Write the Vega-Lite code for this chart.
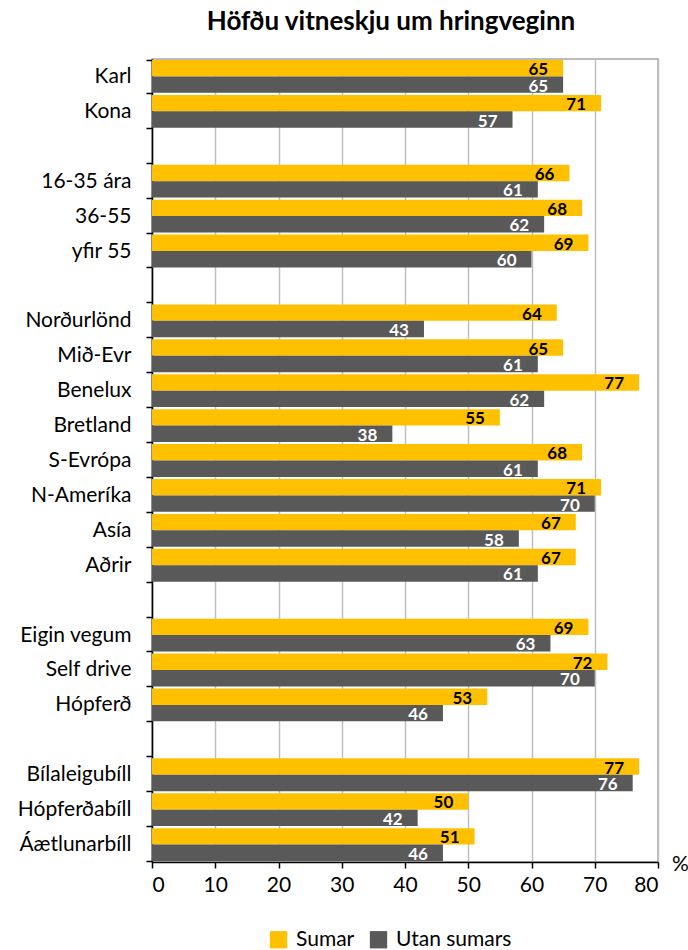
{
  "$schema": "https://vega.github.io/schema/vega-lite/v6.json",
  "autosize": {"type": "none"},
  "padding": {"left": 152, "top": 59, "right": 30, "bottom": 88},
  "width": 506,
  "height": 803,
  "background": "white",
  "title": {"text": "Höfðu vitneskju um hringveginn", "font": "Lato", "fontSize": 26, "fontWeight": "bold", "color": "#000000", "anchor": "middle", "dx": -14, "offset": 13},
  "config": {
    "font": "Lato",
    "view": {"stroke": "#a6a6a6", "strokeWidth": 1.5}
  },
  "data": {"values": [
    {"cat": "Karl", "series": "Sumar", "value": 65},
    {"cat": "Karl", "series": "Utan sumars", "value": 65},
    {"cat": "Kona", "series": "Sumar", "value": 71},
    {"cat": "Kona", "series": "Utan sumars", "value": 57},
    {"cat": "16-35 ára", "series": "Sumar", "value": 66},
    {"cat": "16-35 ára", "series": "Utan sumars", "value": 61},
    {"cat": "36-55", "series": "Sumar", "value": 68},
    {"cat": "36-55", "series": "Utan sumars", "value": 62},
    {"cat": "yfir 55", "series": "Sumar", "value": 69},
    {"cat": "yfir 55", "series": "Utan sumars", "value": 60},
    {"cat": "Norðurlönd", "series": "Sumar", "value": 64},
    {"cat": "Norðurlönd", "series": "Utan sumars", "value": 43},
    {"cat": "Mið-Evr", "series": "Sumar", "value": 65},
    {"cat": "Mið-Evr", "series": "Utan sumars", "value": 61},
    {"cat": "Benelux", "series": "Sumar", "value": 77},
    {"cat": "Benelux", "series": "Utan sumars", "value": 62},
    {"cat": "Bretland", "series": "Sumar", "value": 55},
    {"cat": "Bretland", "series": "Utan sumars", "value": 38},
    {"cat": "S-Evrópa", "series": "Sumar", "value": 68},
    {"cat": "S-Evrópa", "series": "Utan sumars", "value": 61},
    {"cat": "N-Ameríka", "series": "Sumar", "value": 71},
    {"cat": "N-Ameríka", "series": "Utan sumars", "value": 70},
    {"cat": "Asía", "series": "Sumar", "value": 67},
    {"cat": "Asía", "series": "Utan sumars", "value": 58},
    {"cat": "Aðrir", "series": "Sumar", "value": 67},
    {"cat": "Aðrir", "series": "Utan sumars", "value": 61},
    {"cat": "Eigin vegum", "series": "Sumar", "value": 69},
    {"cat": "Eigin vegum", "series": "Utan sumars", "value": 63},
    {"cat": "Self drive", "series": "Sumar", "value": 72},
    {"cat": "Self drive", "series": "Utan sumars", "value": 70},
    {"cat": "Hópferð", "series": "Sumar", "value": 53},
    {"cat": "Hópferð", "series": "Utan sumars", "value": 46},
    {"cat": "Bílaleigubíll", "series": "Sumar", "value": 77},
    {"cat": "Bílaleigubíll", "series": "Utan sumars", "value": 76},
    {"cat": "Hópferðabíll", "series": "Sumar", "value": 50},
    {"cat": "Hópferðabíll", "series": "Utan sumars", "value": 42},
    {"cat": "Áætlunarbíll", "series": "Sumar", "value": 51},
    {"cat": "Áætlunarbíll", "series": "Utan sumars", "value": 46}
  ]},
  "encoding": {
    "y": {
      "field": "cat", "type": "nominal",
      "scale": {"domain": ["Karl", "Kona", " ", "16-35 ára", "36-55", "yfir 55", "  ", "Norðurlönd", "Mið-Evr", "Benelux", "Bretland", "S-Evrópa", "N-Ameríka", "Asía", "Aðrir", "   ", "Eigin vegum", "Self drive", "Hópferð", "    ", "Bílaleigubíll", "Hópferðabíll", "Áætlunarbíll"], "paddingInner": 0.06, "paddingOuter": 0.03},
      "axis": {"title": null, "tickBand": "extent", "domainColor": "#000000", "domainWidth": 1.5, "tickColor": "#000000", "tickWidth": 1.5, "tickSize": 6, "labelFontSize": 21, "labelColor": "#000000", "labelPadding": 15, "labelFont": "Lato"}
    },
    "x": {
      "field": "value", "type": "quantitative",
      "scale": {"domain": [0, 80], "nice": false},
      "axis": {"values": [0, 10, 20, 30, 40, 50, 60, 70, 80], "title": "%", "titleFontSize": 21, "titleFontWeight": "normal", "titleFont": "Lato", "titleColor": "#000000", "titleX": 528, "titleY": 2, "titleBaseline": "middle", "titleAlign": "center", "domainColor": "#000000", "domainWidth": 1.5, "tickColor": "#000000", "tickWidth": 1.5, "tickSize": 6, "labelFontSize": 21, "labelColor": "#000000", "labelPadding": 6, "gridColor": "#bfbfbf", "gridWidth": 1.5, "labelFont": "Lato"}
    },
    "yOffset": {"field": "series", "type": "nominal", "sort": ["Sumar", "Utan sumars"]}
  },
  "layer": [
    {
      "mark": {"type": "bar"},
      "encoding": {
        "color": {"field": "series", "type": "nominal", "sort": ["Sumar", "Utan sumars"],
          "scale": {"domain": ["Sumar", "Utan sumars"], "range": ["#FFC000", "#595959"]},
          "legend": {"title": null, "orient": "none", "direction": "horizontal", "legendX": 116, "legendY": 870, "symbolType": "square", "symbolSize": 300, "symbolStrokeWidth": 0, "symbolOpacity": 1, "labelFontSize": 21, "labelColor": "#000000", "labelFont": "Lato", "columnPadding": 13, "labelOffset": 7}
        }
      }
    },
    {
      "mark": {"type": "text", "align": "right", "baseline": "middle", "dx": -15, "dy": 2, "fontSize": 17, "fontWeight": "bold"},
      "encoding": {
        "text": {"field": "value", "type": "quantitative"},
        "color": {"condition": {"test": "datum.series === 'Sumar'", "value": "#000000"}, "value": "#ffffff"}
      }
    }
  ]
}
